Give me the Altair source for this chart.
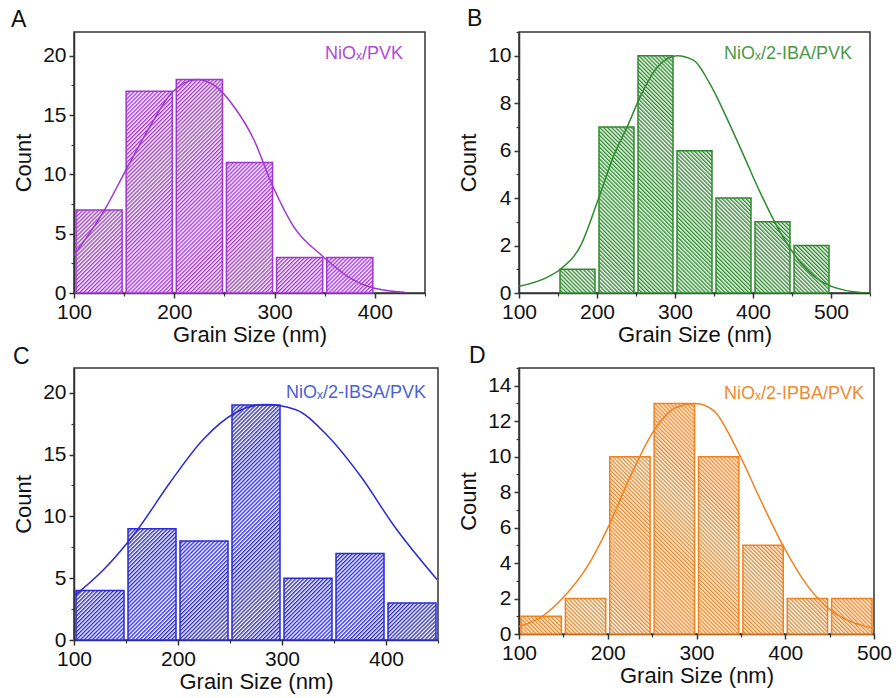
import jinja2
import pandas as pd
import altair as alt

FONT = "Liberation Sans"
BIN_WIDTH = 50

# ---------------- data ----------------
a_bin_start = [100, 150, 200, 250, 300, 350]
a_counts = [7, 17, 18, 11, 3, 3]
a_fit_x = [100, 130.5, 152, 173.5, 196.7, 223, 240, 259.6, 279.5, 297.7, 319, 348, 375.5, 398.7, 430]
a_fit_y = [3.2, 7.0, 10.4, 13.7, 16.8, 18.0, 17.5, 15.7, 12.9, 9.1, 5.6, 3.1, 1.26, 0.42, 0.06]

b_bin_start = [150, 200, 250, 300, 350, 400, 450]
b_counts = [1, 7, 10, 6, 4, 3, 2]
b_fit_x = [100, 136, 153, 179, 200, 221.6, 238.7, 255.8, 277, 302.7, 324, 345, 366.7, 388, 409, 435, 460.6, 486, 520, 550]
b_fit_y = [0.28, 0.66, 1.0, 2.0, 3.8, 5.8, 7.0, 8.3, 9.5, 10.0, 9.8, 8.8, 7.35, 5.8, 4.25, 2.56, 1.3, 0.52, 0.1, 0.0]

c_bin_start = [100, 150, 200, 250, 300, 350, 400]
c_counts = [4, 9, 8, 19, 5, 7, 3]
c_fit_x = [100, 128.6, 160, 192, 224, 255.6, 284, 312.7, 344, 376, 408, 449]
c_fit_y = [3.55, 5.7, 8.8, 12.7, 16.2, 18.4, 19.05, 18.65, 16.5, 13.2, 9.2, 4.9]

d_bin_start = [100, 150, 200, 250, 300, 350, 400, 450]
d_counts = [1, 2, 10, 13, 10, 5, 2, 2]
d_fit_x = [100, 124.4, 150.6, 176.9, 199.3, 225.6, 251.8, 278, 298.7, 319.3, 345.6, 371.8, 398, 424.3, 450.5, 476.8, 500]
d_fit_y = [0.42, 0.94, 2.1, 3.8, 5.9, 8.9, 11.45, 12.8, 13.0, 12.6, 10.4, 7.6, 4.94, 2.77, 1.36, 0.64, 0.32]

labels = ["NiOₓ/PVK", "NiOₓ/2-IBA/PVK", "NiOₓ/2-IBSA/PVK", "NiOₓ/2-IPBA/PVK"]
letters = ["A", "B", "C", "D"]

# ---------------- styles ----------------
colors = ["#a135d3", "#2e8b2e", "#2a2ad8", "#f0821e"]
label_colors = ["#b04ad8", "#4a9a4a", "#4a62d4", "#f08a30"]
hatch_angles = [45, -45, 45, -45]
hatch_ids = ["hatchA", "hatchB", "hatchC", "hatchD"]


def pattern(pid, color, angle):
    return (f'<pattern id="{pid}" patternUnits="userSpaceOnUse" width="2.8" height="2.8" '
            f'patternTransform="rotate({angle})">'
            f'<rect x="0" y="0" width="2.8" height="2.8" fill="#ffffff"/>'
            f'<rect x="0" y="0" width="1.4" height="2.8" fill="{color}"/></pattern>')


defs = ('<svg width="0" height="0" style="position:absolute;left:0;top:0"><defs>'
        + "".join(pattern(i, c, a) for i, c, a in zip(hatch_ids, colors, hatch_angles))
        + "</defs></svg>")

TEMPLATE = """<!DOCTYPE html>
<html>
<head>
  <style>
    #{{ output_div }}.vega-embed {
      width: 100%;
      display: flex;
    }
    #{{ output_div }}.vega-embed details,
    #{{ output_div }}.vega-embed details summary {
      position: relative;
    }
  </style>
  <script type="text/javascript" src="{{ base_url }}/vega@{{ vega_version }}"></script>
  <script type="text/javascript" src="{{ base_url }}/vega-lite@{{ vegalite_version }}"></script>
  <script type="text/javascript" src="{{ base_url }}/vega-embed@{{ vegaembed_version }}"></script>
</head>
<body>
  PATTERN_DEFS
  <div id="{{ output_div }}"></div>
  <script>
    (function(vegaEmbed) {
      var spec = {{ spec }};
      var embedOpt = {{ embed_options }};
      function showError(el, error){
          el.innerHTML = ('<div style="color:red;"><p>JavaScript Error: ' + error.message + '</p></div>');
          throw error;
      }
      const el = document.getElementById('{{ output_div }}');
      vegaEmbed("#{{ output_div }}", spec, embedOpt)
        .catch(error => showError(el, error));
    })(vegaEmbed);
  </script>
</body>
</html>
"""
template = jinja2.Template(TEMPLATE.replace("PATTERN_DEFS", defs))


def major_axis(orient, values, title):
    kw = dict(values=values, title=title, orient=orient, grid=False, tickSize=5, tickWidth=1.5,
              tickColor="#333333", domainColor="#333333", domainWidth=1.5, labelFont=FONT,
              labelFontSize=21, labelColor="#111111", titleFont=FONT, titleFontSize=22,
              titleFontWeight="normal", titleColor="#111111", labelPadding=3,
              labelFlush=False, labelOverlap=False)
    if orient == "left":
        kw["titlePadding"] = 7
    else:
        kw["titlePadding"] = 2
    return alt.Axis(**kw)


def minor_axis(orient, values):
    return alt.Axis(values=values, orient=orient, labels=False, domain=False, grid=False,
                    tickSize=3, tickWidth=1.2, tickColor="#333333", title=None)


def panel(i, bin_start, counts, fit_x, fit_y, x_dom, y_dom, x_major, x_minor, y_major, y_minor,
          w, h, label_xy, letter_dx, letter_offset):
    bars_df = pd.DataFrame({"start": bin_start,
                            "end": [b + BIN_WIDTH for b in bin_start],
                            "count": counts})
    fit_df = pd.DataFrame({"size": fit_x, "fit": fit_y})
    xs = alt.Scale(domain=x_dom, nice=False, zero=False)
    ys = alt.Scale(domain=y_dom, nice=False)
    bars = alt.Chart(bars_df).mark_rect(
        fill=f"url(#{hatch_ids[i]})", stroke=colors[i], strokeWidth=1.5, xOffset=2, x2Offset=-2
    ).encode(
        x=alt.X("start:Q", scale=xs, axis=major_axis("bottom", x_major, "Grain Size (nm)")),
        x2="end:Q",
        y=alt.Y("count:Q", scale=ys, axis=major_axis("left", y_major, "Count")),
        y2=alt.datum(0),
    )
    curve = alt.Chart(fit_df).mark_line(
        color=colors[i], strokeWidth=1.5, interpolate="monotone", clip=True
    ).encode(
        x=alt.X("size:Q", scale=xs, axis=minor_axis("bottom", x_minor)),
        y=alt.Y("fit:Q", scale=ys, axis=minor_axis("left", y_minor)),
    )
    text = alt.Chart(pd.DataFrame({"t": [labels[i]]})).mark_text(
        align="right", baseline="alphabetic", font=FONT, fontSize=18, color=label_colors[i]
    ).encode(text="t:N", x=alt.value(label_xy[0]), y=alt.value(label_xy[1]))
    return alt.layer(bars, curve, text).resolve_axis(x="independent", y="independent").properties(
        width=w, height=h,
        title=alt.TitleParams(text=letters[i], anchor="start", frame="group", dx=letter_dx,
                              offset=letter_offset, fontSize=23, font=FONT,
                              fontWeight="normal", color="#111111"),
    )


pA = panel(0, a_bin_start, a_counts, a_fit_x, a_fit_y, [100, 450], [0, 22],
           [100, 200, 300, 400], [150, 250, 350, 450], [0, 5, 10, 15, 20], [2.5, 7.5, 12.5, 17.5],
           351, 261, (329, 27), -63, 0)
pB = panel(1, b_bin_start, b_counts, b_fit_x, b_fit_y, [100, 550], [0, 11],
           [100, 200, 300, 400, 500], [150, 250, 350, 450, 550], [0, 2, 4, 6, 8, 10],
           [1, 3, 5, 7, 9, 11], 351, 261, (333, 27), -52, 0)
pC = panel(2, c_bin_start, c_counts, c_fit_x, c_fit_y, [100, 450], [0, 22],
           [100, 200, 300, 400], [150, 250, 350, 450], [0, 5, 10, 15, 20], [2.5, 7.5, 12.5, 17.5],
           364, 272, (352, 30), -61, -1)
pD = panel(3, d_bin_start, d_counts, d_fit_x, d_fit_y, [100, 500], [0, 15],
           [100, 200, 300, 400, 500], [150, 250, 350, 450], [0, 2, 4, 6, 8, 10, 12, 14],
           [1, 3, 5, 7, 9, 11, 13, 15], 355, 266, (345, 31), -50, -1)

chart = alt.concat(pA, pB, pC, pD, columns=2, spacing={"row": 75, "column": 81},
                   bounds="flush").properties(
    padding={"left": 10, "top": 7, "right": 2, "bottom": 2}
).configure_view(stroke="#333333", strokeWidth=1.5)

chart.save("out.html", embed_options={"renderer": "svg", "actions": False}, template=template)
